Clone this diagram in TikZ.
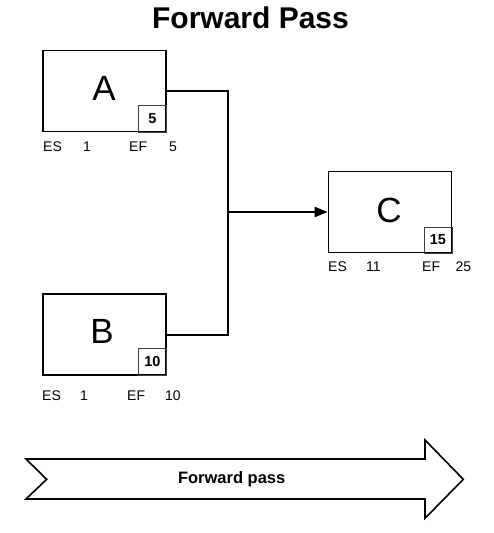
\documentclass[tikz,border=0pt]{standalone}
\usepackage{fontspec}
\setmainfont{Liberation Sans}
\usetikzlibrary{arrows.meta}
\begin{document}
\begin{tikzpicture}[x=1pt,y=-1pt,
  box/.style={draw,line width=1.6pt,minimum width=123pt,minimum height=81pt,inner sep=0pt},
  dur/.style={draw=black!75,line width=0.8pt,minimum width=28pt,minimum height=27pt,inner sep=0pt,font=\fontsize{14.5}{16}\selectfont\bfseries},
  big/.style={font=\fontsize{35}{40}\selectfont},
  lab/.style={anchor=base west,inner sep=0pt,font=\fontsize{14}{16}\selectfont},
  conn/.style={line width=2pt}]
\useasboundingbox (0,0) rectangle (494,533);
\node[font=\fontsize{30}{34}\selectfont\bfseries] (title) at (250.5,18) {Forward Pass};
% boxes
\node[box] (A) at (104.5,91) {};
\node[box] (B) at (104.5,334.5) {};
\node[box] (C) at (390,212) {};
\node[big] (la) at (104,88) {A};
\node[big] (lb) at (102,331) {B};
\node[big] (lc) at (389,210) {C};
\node[dur,anchor=south east] (da) at (A.south east) {5};
\node[dur,anchor=south east] (db) at (B.south east) {10};
\node[dur,anchor=south east,minimum height=26pt] (dc) at (C.south east) {15};
% labels
\node[lab] (aes) at (43,151.7) {ES};
\node[lab] (a1) at (83,151.7) {1};
\node[lab] (aef) at (129,151.7) {EF};
\node[lab] (a5) at (169,151.7) {5};
\node[lab] (bes) at (42,400) {ES};
\node[lab] (b1) at (80,400) {1};
\node[lab] (bef) at (127,400) {EF};
\node[lab] (b10) at (165,400) {10};
\node[lab] (ces) at (328,271.7) {ES};
\node[lab] (c11) at (366,271.7) {11};
\node[lab] (cef) at (422,271.7) {EF};
\node[lab] (c25) at (455.5,271.7) {25};
% connectors
\coordinate (j) at (228,212);
\draw[conn] (A.east) -| (j) |- (B.east);
\draw[conn,-{Triangle[length=13pt,width=10pt]}] (j) -- (C.west);
% big arrow
\draw[line width=1.6pt,line join=miter] (26,459) -- (425,459) -- (425,440) -- (463.3,479.3) -- (425,518.3) -- (425,499) -- (26,499) -- (46.7,479.3) -- cycle;
\node[font=\fontsize{16.5}{19}\selectfont\bfseries] (fp) at (231.7,479.3) {Forward pass};
\end{tikzpicture}
\end{document}
